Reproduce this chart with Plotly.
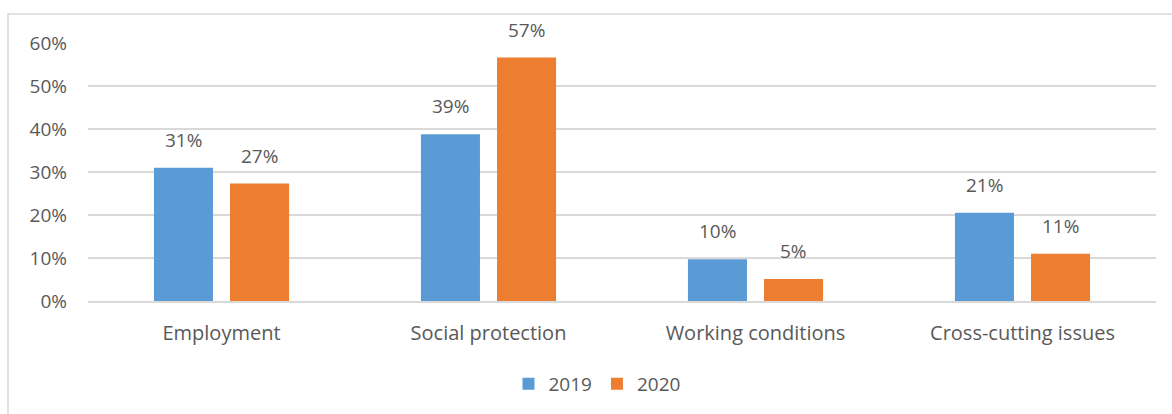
import plotly.graph_objects as go

categories = ["Employment", "Social protection", "Working conditions", "Cross-cutting issues"]
series_names = ["2019", "2020"]
values_2019 = [0.310, 0.388, 0.097, 0.205]
values_2020 = [0.273, 0.566, 0.051, 0.110]
labels_2019 = ["31%", "39%", "10%", "21%"]
labels_2020 = ["27%", "57%", "5%", "11%"]
y_ticks = [0, 0.1, 0.2, 0.3, 0.4, 0.5, 0.6]
y_tick_text = ["0%", "10%", "20%", "30%", "40%", "50%", "60%"]

BLUE = "#5B9BD5"
ORANGE = "#ED7D31"
TEXT = "#595959"
GRID = "#D9D9D9"
FONT = "Open Sans"
FS = 20

W, H = 1172, 414
ML, MR, MT, MB = 88, 16, 43, 113
pw = W - ML - MR
ph = H - MT - MB

fig = go.Figure()
fig.add_trace(go.Bar(x=categories, y=values_2019, name=series_names[0],
                     marker=dict(color=BLUE, line=dict(width=0))))
fig.add_trace(go.Bar(x=categories, y=values_2020, name=series_names[1],
                     marker=dict(color=ORANGE, line=dict(width=0))))

annotations = []
for cat, v, t in zip(categories, values_2019, labels_2019):
    annotations.append(dict(x=cat, y=v, text=t, showarrow=False, xshift=-38,
                            yanchor="bottom", yshift=13,
                            font=dict(family=FONT, size=FS - 1, color=TEXT)))
for cat, v, t in zip(categories, values_2020, labels_2020):
    annotations.append(dict(x=cat, y=v, text=t, showarrow=False, xshift=38,
                            yanchor="bottom", yshift=13,
                            font=dict(family=FONT, size=FS - 1, color=TEXT)))

fig.update_layout(
    width=W, height=H,
    margin=dict(l=ML, r=MR, t=MT, b=MB, autoexpand=False),
    paper_bgcolor="white", plot_bgcolor="white",
    barmode="group", bargap=0.43, bargroupgap=0.224,
    font=dict(family=FONT, size=FS, color=TEXT),
    showlegend=True,
    legend=dict(orientation="h", x=0.5 - 25 / pw, xanchor="center", y=(0 - 83) / ph,
                yanchor="middle", font=dict(family=FONT, size=FS - 1, color=TEXT),
                itemwidth=30, tracegroupgap=0),
    annotations=annotations,
    shapes=[dict(type="rect", xref="paper", yref="paper",
                 x0=(8 - ML) / pw, x1=(W + 10 - ML) / pw,
                 y0=(ph - (H + 10 - MT)) / ph, y1=(ph - (14 - MT)) / ph,
                 line=dict(color="#D9D9D9", width=1.5), fillcolor="rgba(0,0,0,0)",
                 layer="below")],
)
fig.update_xaxes(showgrid=False, showline=True, linecolor=GRID, linewidth=1.5,
                 ticks="", ticklabelstandoff=13,
                 tickfont=dict(family=FONT, size=FS, color=TEXT))
fig.update_yaxes(range=[0, 0.6], tickvals=y_ticks, ticktext=y_tick_text,
                 showgrid=True, gridcolor=GRID, gridwidth=1.5, zeroline=False,
                 showline=False, ticks="", ticklabelstandoff=20,
                 tickfont=dict(family=FONT, size=FS - 1, color=TEXT))

fig.write_html("out.html", config={"displayModeBar": False},
               post_script="document.body.style.margin='0';")
